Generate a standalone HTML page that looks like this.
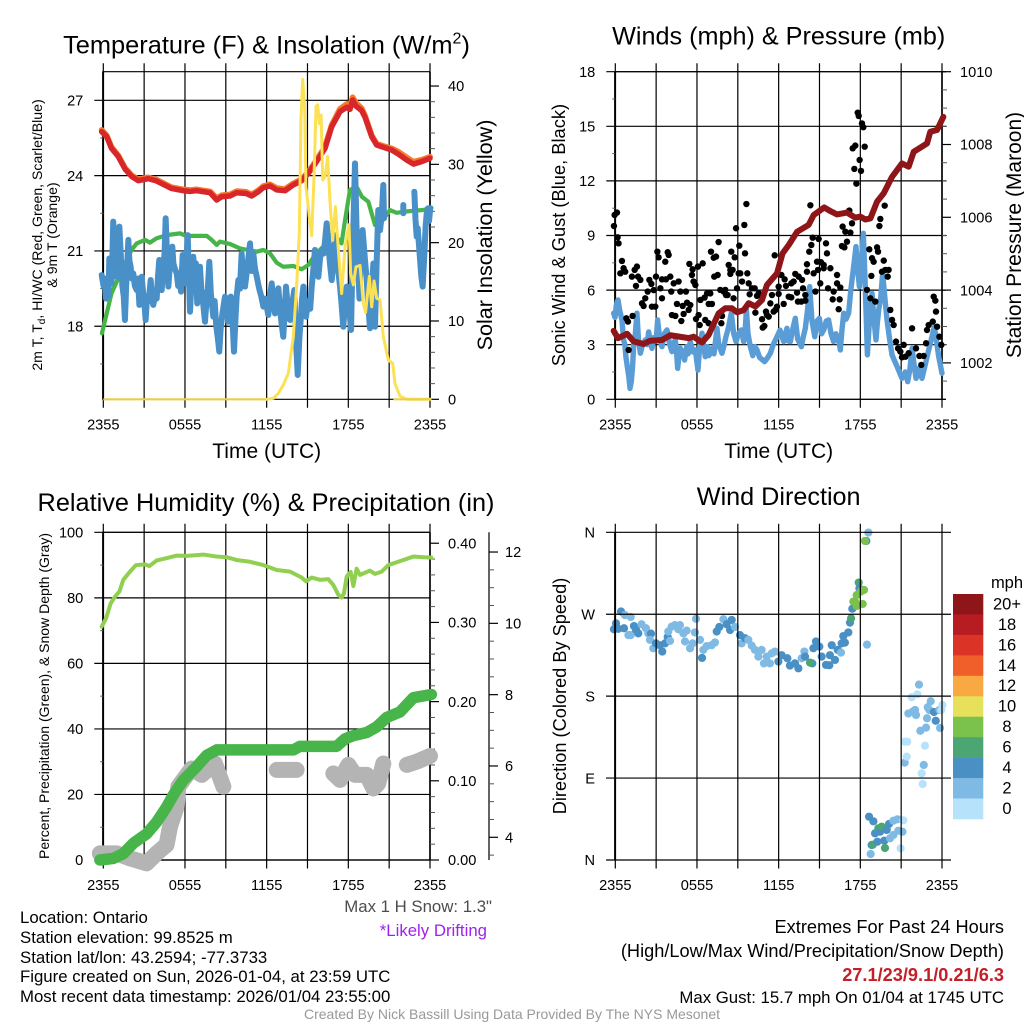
<!DOCTYPE html>
<html lang="en">
<head>
<meta charset="utf-8">
<title>NYS Mesonet Station Meteogram - Ontario</title>
<style>
html,body{margin:0;padding:0;background:#fff;}
svg{display:block;}
text{font-family:"Liberation Sans",sans-serif;fill:#000;}
.title{font-size:25.2px;text-anchor:middle;}
.axis-label{font-size:21px;text-anchor:middle;}
.small-label{font-size:14.1px;text-anchor:middle;}
.foot{font-size:16.8px;}
.foot-wide{font-size:18.2px;}
</style>
</head>
<body>
<svg id="chart" xmlns="http://www.w3.org/2000/svg" width="1024" height="1024" viewBox="0 0 1024 1024">
<rect x="0" y="0" width="1024" height="1024" fill="#ffffff"/>
<g id="layer"></g>

<text class="title" style="font-size:25.4px" x="266.5" y="53.5">Temperature (F) &amp; Insolation (W/m<tspan font-size="16" dy="-10">2</tspan><tspan dy="10">)</tspan></text>
<text class="axis-label" x="266.7" y="458">Time (UTC)</text>
<text class="small-label" transform="translate(42,235) rotate(-90)">2m T, T<tspan font-size="10" dy="3">d</tspan><tspan dy="-3">, HI/WC (Red, Green, Scarlet/Blue)</tspan></text>
<text class="small-label" transform="translate(57,235) rotate(-90)">&amp; 9m T (Orange)</text>
<text class="axis-label" style="font-size:21.6px" transform="translate(492,235) rotate(-90)">Solar Insolation (Yellow)</text>

<text class="title" x="778.7" y="44.5">Winds (mph) &amp; Pressure (mb)</text>
<text class="axis-label" x="778.7" y="458">Time (UTC)</text>
<text class="axis-label" style="font-size:18.3px" transform="translate(565,235) rotate(-90)">Sonic Wind &amp; Gust (Blue, Black)</text>
<text class="axis-label" transform="translate(1021,235) rotate(-90)">Station Pressure (Maroon)</text>

<text class="title" style="font-size:25.3px" x="266" y="511">Relative Humidity (%) &amp; Precipitation (in)</text>
<text class="small-label" style="font-size:14px" transform="translate(49,696) rotate(-90)">Percent, Precipitation (Green), &amp; Snow Depth (Gray)</text>

<text class="title" x="778.7" y="505">Wind Direction</text>
<text class="axis-label" style="font-size:18.2px" transform="translate(566,696) rotate(-90)">Direction (Colored By Speed)</text>

<text class="foot" x="20" y="923">Location: Ontario</text>
<text class="foot" x="20" y="943">Station elevation: 99.8525 m</text>
<text class="foot" x="20" y="963">Station lat/lon: 43.2594; -77.3733</text>
<text class="foot" x="20" y="982">Figure created on Sun, 2026-01-04, at 23:59 UTC</text>
<text class="foot" x="20" y="1002">Most recent data timestamp: 2026/01/04 23:55:00</text>
<text class="foot" x="492" y="912" text-anchor="end" style="fill:#4d4d4d">Max 1 H Snow: 1.3"</text>
<text class="foot" x="487" y="936" text-anchor="end" style="fill:#a020f0">*Likely Drifting</text>
<text class="foot-wide" x="1004" y="933" text-anchor="end">Extremes For Past 24 Hours</text>
<text class="foot-wide" x="1004" y="957" text-anchor="end">(High/Low/Max Wind/Precipitation/Snow Depth)</text>
<text class="foot-wide" x="1004" y="981" text-anchor="end" font-weight="bold" style="fill:#c4202a">27.1/23/9.1/0.21/6.3</text>
<text class="foot" x="1004" y="1003" text-anchor="end">Max Gust: 15.7 mph On 01/04 at 1745 UTC</text>
<text x="512" y="1019" text-anchor="middle" style="font-size:14px;fill:#999999">Created By Nick Bassill Using Data Provided By The NYS Mesonet</text>
</svg>

<script>
// ---------- data (hours since 2355 UTC; null marks a gap) ----------
const timeLabels = ['2355','','0555','','1155','','1755','','2355'];

const tempTicks = [18,21,24,27];
const insolationTicks = [0,10,20,30,40];
const windTicks = [0,3,6,9,12,15,18];
const pressureTicks = [1002,1004,1006,1008,1010];
const humidityTicks = [0,20,40,60,80,100];
const precipTicks = ['0.00','0.10','0.20','0.30','0.40'];
const snowTicks = [4,6,8,10,12];
const directionTicks = ['N','E','S','W','N'];

const redHours = [-0.12,0.25,0.6,1.1,1.6,2.1,2.57,3.3,3.9,5,5.88,6.37,6.86,7.84,8.33,8.7,9.3,9.8,10.5,10.9,11.4,11.75,12.25,12.74,13.35,13.96,14.57,15.06,15.67,16.29,16.78,17.39,17.88,18.12,18.32,18.56,18.98,19.23,19.72,20.08,20.57,21.19,21.67,22.29,22.78,23.39,24];
const redTemp = [25.75,25.55,25.09,24.76,24.26,23.96,23.8,23.88,23.79,23.49,23.4,23.37,23.4,23.32,23.03,23.16,23.19,23.32,23.29,23.19,23.36,23.52,23.59,23.43,23.4,23.63,23.8,24.09,24.56,25.09,25.95,26.55,26.72,26.64,27.01,26.77,26.59,26.32,25.55,25.22,25.13,25.02,24.86,24.62,24.46,24.56,24.69];
const orangeTemp = [25.82,25.6,25.14,24.8,24.3,24.0,23.85,23.93,23.84,23.54,23.45,23.42,23.45,23.37,23.1,23.22,23.25,23.38,23.35,23.25,23.42,23.58,23.65,23.5,23.46,23.69,23.86,24.14,24.62,25.16,26.02,26.66,26.85,26.8,27.12,26.9,26.68,26.38,25.6,25.27,25.18,25.08,24.95,24.72,24.55,24.63,24.75];

const greenHours = [-0.1,0.25,0.6,1.1,1.6,2.08,2.45,3.06,3.43,3.9,4.65,5.63,6.1,7.6,7.96,8.33,8.57,9.3,10.04,11.27,11.76,12.25,12.74,13.22,13.96,14.57,15.06,15.55,16.16,16.53,16.9,17.5,17.76,18.12,18.6,19,19.47,19.96,20.45,21.06,21.55,22.04,22.78,23.5,24.1];
const greenTemp = [17.72,18.51,19.31,19.91,20.51,21.04,21.3,21.44,21.33,21.5,21.63,21.7,21.6,21.6,21.44,21.24,21.37,21.28,21.1,20.97,21.04,20.9,20.53,20.37,20.4,20.27,20.44,20.84,21.17,21.5,21.7,21.3,22.23,23.43,23.56,23.16,22.96,22.03,22.17,22.63,22.52,22.56,22.6,22.63,22.72];

const chillHours = [-0.12,0.02,0.1,0.2,0.3,0.38,0.44,0.52,0.6,0.66,0.73,0.8,0.9,0.98,1.08,1.18,1.28,1.4,1.5,1.59,1.68,1.76,1.84,1.92,2,2.1,2.2,2.32,2.45,2.55,2.65,2.75,2.82,2.95,3.05,3.11,3.22,3.34,3.48,3.58,3.67,3.8,3.92,4.02,4.11,4.2,4.29,4.4,4.5,4.58,4.68,4.78,4.9,5.07,5.15,5.25,5.39,5.5,5.62,5.71,5.83,5.92,6,6.1,6.2,6.28,6.37,6.45,6.61,6.72,6.8,6.9,7,7.1,7.2,7.3,7.47,7.58,7.68,7.79,7.9,8.08,8.18,8.3,8.42,8.52,8.62,8.75,8.94,9.05,9.18,9.36,9.48,9.6,9.72,9.8,9.92,10.04,10.16,10.28,10.41,10.55,10.78,10.9,11.02,11.14,11.3,11.45,11.6,11.76,11.9,12.12,12.25,12.37,12.5,12.61,12.75,12.86,13,13.1,13.22,13.32,13.42,13.55,13.72,13.88,14.03,14.15,14.28,14.4,14.5,14.6,14.7,14.89,15.05,15.2,15.31,15.42,15.55,15.68,15.8,15.92,16.04,16.2,16.41,16.55,16.65,16.78,16.9,17.02,17.2,17.39,17.5,17.63,17.75,17.88,18.05,18.2,18.3,18.42,18.49,18.6,18.74,18.82,18.9,19.05,19.2,19.35,19.47,19.59,19.72,19.84,19.96,20.08,20.2,20.33,20.45,20.57,20.62,null,22.04,22.04,null,22.85,22.93,23.02,23.1,23.25,23.36,23.46,23.58,23.68,23.76,23.85,23.93,24.02];
const chillTemp = [20.04,19.6,19.9,19.1,19.6,19.2,20.7,20.1,19.7,20.6,22.17,21.3,20.2,19.97,20.9,21.97,20.9,19.6,19.2,18.25,19.6,20.5,21.44,20.6,20.4,19.9,20.1,19.6,19.44,19.9,18.85,19.5,19.97,19.2,18.7,18.25,19.2,19,19.84,19.1,18.85,19.2,19.1,20,20.64,20.1,19.44,20.4,20.9,22.3,20.9,19.58,20.5,21.17,20.5,20.3,20.11,19.6,19.9,19.38,20.84,20.2,19.71,20.5,21.63,20.2,18.58,19.5,20.77,20.1,20.5,18.91,19.6,20.37,19.5,19.1,18.18,19,19.5,20.57,19.3,18.38,19,18,17.5,16.99,17.9,18.5,19.18,18.7,18.18,19.18,18.4,16.99,18.4,19.2,19.84,19.5,20.9,19.9,19.58,20.2,21.3,20.2,20.9,20.31,19.9,19.5,19.2,18.78,19.1,18.45,19.2,19.71,19,18.51,19.1,19.51,18.6,18.1,17.58,18.5,19.58,18.8,18.25,18.9,19.44,17.5,16.06,17.5,18.25,19.1,19.58,18.38,19,18.7,19.58,20.2,21.04,20.3,19.97,20.7,21.04,20.9,22.1,21.2,20.5,19.84,20.6,21.57,20.5,19.58,18.9,17.98,18.9,19.58,18.8,17.85,20.5,23,24.49,22,20.11,19.1,21,21.83,20.8,19.84,18.8,17.92,19.5,20.5,17.98,20.5,22.63,21.83,22.4,23.63,22.3,null,22.83,22.5,null,23.36,22.3,21.57,21.9,20.8,20,19.58,20.8,22,22.5,22.7,22.2,22.7];

const sunHours = [12,12.49,12.86,13.22,13.59,13.96,14.2,14.4,14.52,14.65,14.79,14.89,15.06,15.13,15.31,15.48,15.63,15.75,15.87,16,16.12,16.29,16.48,16.65,16.85,17.05,17.27,17.51,17.76,18.05,18.17,18.37,18.56,18.86,19.1,19.27,19.54,19.72,19.89,20.08,20.33,20.57,20.94,21.26,21.43,21.8,22.3,24];
const sunWatts = [0,0.13,0.77,1.83,3.3,8,14.4,21.2,35.7,40.85,37.4,27.1,24.6,23.3,20.9,28.4,37.4,37.6,35.2,36.3,28,28.4,31,25.4,20.3,24.6,19,13.5,19.5,22.3,16.1,14.6,16.9,17.1,12.3,11.1,15.7,11.8,15.1,12.9,12.7,8,5,4.6,2,0.4,0,0];

const sonicHours = [-0.12,-0.02,0.08,0.2,0.32,0.49,0.6,0.7,0.78,0.88,1,1.08,1.18,1.27,1.35,1.45,1.59,1.7,1.84,2,2.2,2.35,2.45,2.58,2.69,2.85,3,3.11,3.25,3.43,3.6,3.8,4,4.16,4.3,4.41,4.5,4.58,4.68,4.78,4.92,5.09,5.25,5.35,5.51,5.7,5.88,6.07,6.2,6.37,6.5,6.61,6.75,6.88,7.1,7.25,7.47,7.6,7.84,8,8.13,8.3,8.52,8.7,8.87,9.05,9.26,9.43,9.55,9.63,9.75,9.92,10.1,10.25,10.41,10.6,10.97,11.2,11.39,11.6,11.88,12.1,12.37,12.5,12.61,12.72,12.86,13.05,13.22,13.4,13.67,13.8,13.96,14.12,14.28,14.45,14.65,14.82,14.99,15.15,15.31,15.5,15.67,15.85,16.04,16.2,16.41,16.53,16.65,16.78,16.95,17.14,17.3,17.51,17.68,17.8,17.93,18.08,18.22,18.35,18.52,18.65,18.86,19,19.15,19.25,19.35,19.5,19.64,19.8,19.96,20.15,20.33,20.7,21.06,21.3,21.48,21.65,21.8,21.95,22.09,22.3,22.53,22.8,23.02,23.25,23.44,23.6,23.76,24];
const sonicSpeed = [4.73,4.5,5.2,5.46,4.9,4.36,3.3,3,2.34,1.8,1.2,0.6,1,1.8,3,3.4,4.73,3.3,2.53,3,3.26,3,3.7,3.2,2.8,3.4,3.2,4.36,3.4,2.89,3.6,3.81,3,2.62,3.1,3.26,2.6,1.7,2.4,2.8,2.6,2.16,2.9,2.5,3.17,2.6,2.71,1.61,2.9,3.63,2.9,2.34,2.9,2.4,2.8,2.5,3.9,3,2.53,3,3.44,3.9,4.73,3.6,3.17,3.6,3.81,3.17,3.9,4.91,3.6,2.89,2.4,2.9,2.71,2.3,2.07,2.3,2.53,3,3.44,3.8,3.17,3.6,3.9,3.2,3.17,3.9,4.45,3.3,2.89,3.4,3.9,4.9,6.19,4.3,3.44,4.3,4.45,3.6,3.81,4.3,4.36,3.6,3.17,3.6,3.26,2.71,3.8,4.73,4.4,4.73,6,7.29,8.39,7.2,6.19,7.6,9.12,6.5,2.44,4.1,5.82,4.4,3.26,4.2,4.91,5.6,6.92,5.6,4.36,3.3,2.44,1.8,1.15,1.5,0.97,1.7,2.8,1.9,1.15,1.7,1.15,2,2.71,3.4,3.99,3.2,2.34,1.43];

const pressureHours = [-0.12,0.2,0.86,1.35,2.08,2.57,3.43,4.04,5.39,5.75,6.37,6.86,7.59,8.08,8.57,8.94,9.43,9.8,10.29,10.78,11.14,11.88,12.29,12.74,13.35,14.2,14.57,15.35,15.8,16.29,17.02,17.63,18,18.37,18.74,19.23,19.72,20.33,21.06,21.55,21.92,22.9,23.14,23.64,24.1];
const pressureMb = [1002.88,1002.68,1002.8,1002.59,1002.52,1002.61,1002.63,1002.76,1002.68,1002.72,1002.56,1002.77,1003.36,1003.5,1003.5,1003.39,1003.45,1003.64,1003.55,1003.73,1004.14,1004.46,1005.01,1005.24,1005.6,1005.79,1006.06,1006.27,1006.17,1006.08,1006.13,1005.99,1006.02,1005.94,1005.97,1006.43,1006.66,1007.11,1007.48,1007.39,1007.8,1008.03,1008.35,1008.4,1008.76];

const gustHours = [-0.1,-0.05,0.12,0.17,0.24,0.49,0.37,0.61,0.73,0.81,0.93,0.98,1.27,1.22,1.42,1.59,1.52,1.67,1.84,1.96,2.08,2.2,2.38,2.5,2.65,2.69,2.94,2.99,2.82,3.09,3.18,3.31,3.43,3.43,3.72,3.67,3.85,3.92,4.04,4.11,4.16,4.41,4.29,4.65,4.53,4.78,4.85,5.02,4.95,5.19,5.27,5.51,5.39,5.44,5.63,5.75,5.88,5.68,6.07,6.42,6.12,5.93,6.2,6.25,6.56,6.74,6.98,6.61,6.86,6.86,7.1,7.03,7.23,7.4,7.27,7.52,7.59,7.71,7.79,7.84,7.96,8.13,8.08,8.25,8.33,8.45,8.45,8.62,8.52,8.77,8.69,8.87,8.94,9.06,9.11,9.18,9.31,9.48,9.53,9.63,9.7,9.8,9.87,10.04,10.24,10.29,10.41,10.53,10.65,10.83,10.95,10.78,11.07,11.14,11.27,11.39,11.51,11.63,11.76,11.88,11.71,12,12,12.2,12.37,12.44,12.54,12.74,12.93,12.93,13.1,13.22,13.35,13.47,13.42,13.67,13.72,13.79,13.96,13.96,14.08,14.08,14.25,14.33,14.4,14.5,14.57,14.7,14.82,14.89,14.94,15.06,15.11,15.31,15.31,15.48,15.55,15.63,15.8,15.97,16.04,16.29,16.29,16.48,16.41,16.53,16.7,16.65,16.83,16.9,17.02,17.19,17.27,17.39,17.44,17.63,17.56,17.71,17.81,17.88,17.95,18.05,18.12,18.22,18.32,18.49,18.66,18.81,18.86,18.98,18.74,19.1,19.23,19.3,19.4,19.47,19.72,19.79,19.59,19.84,20.01,20.08,20.2,20.33,20.45,20.62,20.77,20.94,21.06,21.19,21.31,21.55,21.8,22.09,22.34,22.65,22.48,22.83,22.9,23.02,23.32,23.39,23.51,23.56,23.64,23.81,23.95];
const gustSpeed = [9.52,10.13,10.26,8.9,8.57,7.6,6.92,7.2,7.01,4.45,4.27,2.71,4.58,6.74,7.11,7.29,6.23,6.74,6.56,5.27,5.13,5.55,5.92,6.56,6.34,5.09,5.09,6.74,6,8.11,7.8,6.1,5.55,6.59,6.59,7.56,8.08,7.93,6.74,5.92,4.63,4.58,6.37,6.47,5.24,5.92,4.3,4.69,5.13,5.92,5.31,5.18,4.91,7.44,6.83,6.47,6.28,7.14,7.29,7.47,4.63,4.41,4.08,5.46,5.59,5.82,5.82,4.36,4.18,5.24,5.24,8.11,7.78,7.84,6.74,6.83,8.64,6.01,4.18,4.58,5.92,5.73,6.01,5.73,7.38,7.11,6.89,7.11,8.11,7.8,5.55,9.4,6.1,6.92,8.44,6.92,6.47,9.58,8.02,10.73,6.92,6.37,5.77,6.1,6.1,4.76,5.68,5.82,5.73,3.94,4.03,4.4,4.82,4.63,4.54,5.27,5.73,4.82,4.91,5.09,7.91,5.79,6.19,6.83,5.24,6.59,6.23,5.64,5.6,6.37,6.47,6.89,5.86,6.74,5.37,5.37,6.56,6.1,5.73,5.42,7.01,7.42,8.11,10.66,8.48,8.88,6.92,5.92,7.56,7.11,8.81,6.37,7.53,7.38,7.2,8.57,8.02,6.1,7.2,5.49,5.92,6.83,6.37,5.49,4.95,6.14,9.49,8.42,8.35,9.21,8.66,10.37,9.16,9.67,13.79,13.94,12.66,11.85,15.75,15.57,13.15,12.55,15.16,14.95,13.88,6.01,8.24,6.78,7.75,7.56,5.55,5.37,8.35,8.11,9.52,9.91,7.62,10.64,7.01,7.11,6.74,7.11,4.91,4.36,4.08,3.17,2.8,2.62,2.31,2.99,2.34,2.53,3.9,2.8,2.38,2.38,1.89,3.08,3.81,4.08,4.27,5.64,5.42,4.82,3.99,3.44,2.99];

const humidityHours = [-0.12,0.2,0.54,0.86,1.18,1.47,1.96,2.4,3.06,3.38,3.92,4.53,5.39,6.12,7.35,8.33,9.06,9.85,10.78,11.76,12.74,13.72,14.57,14.89,15.31,15.92,16.53,16.9,17.27,17.51,17.68,17.88,18.17,18.37,18.61,18.86,19.59,19.96,20.45,20.94,21.8,22.78,23.51,24.1];
const humidityPct = [71.2,73.7,78.3,80.4,81.9,85.5,88,90,90.2,89.7,91.4,92,92.9,92.8,93.2,92.6,92.4,91.5,91,90,88.5,88,86.2,85,86.2,85.5,85.7,83.9,80.9,80.1,81.4,86.5,87.9,83.6,88.9,87,88.3,87.3,88,90,91.2,92.6,92.4,92.3];

const precipHours = [-0.25,0.73,1.47,2.2,3.18,3.92,4.65,5.14,5.88,6.86,7.59,8.33,9.55,13.96,14.45,17.14,17.76,18.37,19.35,20.08,20.82,21.8,22.78,24.1];
const precipInches = [0,0.002,0.008,0.021,0.033,0.048,0.067,0.082,0.101,0.118,0.132,0.139,0.139,0.139,0.1435,0.1435,0.153,0.157,0.161,0.168,0.18,0.187,0.205,0.209];

const snowHours = [-0.25,0.98,1.96,3.18,3.92,4.65,4.9,5.39,5.51,6.49,7.23,8.2,8.82,null,12.74,14.2,null,16.9,17.39,18,18.5,19.35,19.84,20.2,20.57,null,22.3,23.02,24];
const snowDepth = [3.55,3.55,3.41,3.27,3.55,3.79,4.3,4.86,5.42,5.93,5.75,6.07,5.42,null,5.89,5.89,null,5.79,5.61,6.03,5.75,5.75,5.37,5.51,6.07,null,6.03,6.12,6.28];

const directionHours = [-0.1,0.05,0.22,0.42,0.64,0.71,0.96,1.13,1.13,1.37,1.52,1.69,1.93,2.25,2.42,2.62,2.55,2.79,2.99,3.28,3.45,3.65,3.85,4.02,3.89,4.14,4.38,4.75,4.63,5,5.24,5.12,5.49,5.68,5.85,5.93,6.22,6.37,6.47,6.71,7.08,7.32,7.45,7.64,7.94,8.18,8.43,8.55,8.79,9.16,9.28,9.53,9.77,10.02,10.26,10.51,10.92,10.75,11.12,11.36,11.49,11.73,11.98,12.22,12.64,12.83,13.2,13.45,13.69,13.89,13.94,14.47,14.3,14.55,14.74,14.99,15.16,15.48,15.72,15.9,15.77,16.14,16.34,16.58,16.63,16.87,16.75,17.12,17.24,17.32,17.41,17.49,17.61,17.73,17.73,17.88,17.93,18.03,18.17,18.27,18.49,18.44,18.34,18.59,18.64,18.96,18.76,18.83,18.91,19.08,19.25,19.32,19.45,19.57,19.76,19.81,19.94,20.11,20.18,20.43,20.43,20.72,20.79,20.96,21.09,21.16,21.26,21.28,21.45,21.41,21.53,21.77,21.85,22.02,22.09,22.19,22.31,22.41,22.51,22.58,22.66,22.75,22.83,22.9,22.95,23.17,23.07,23.41,23.54,23.81,23.86,23.95,24.03];
const directionDegrees = [253.5,260,254,273,254.6,269,247,267,247,257,253,249,259,254.6,249,248.7,241.8,232.6,238,236,229,238,245,240.7,251,256.4,258,258,253.5,249,252,240,232.6,238,250,265,241.8,222,230.8,235,236,239,251,256,264.5,259,252.7,263.7,256,247,238,243.6,241.8,235.5,230.8,223.4,216,230.8,223.4,216,227,229,218,225,221.6,213.6,216,210.6,221.6,229,223.4,216,216.8,232.6,240,234.4,223.4,214.3,214,236,225,219.8,230.8,227.8,238,238.8,246,250,260.8,265.6,276,283.9,283.9,291,279,304.8,298.5,294.9,281.3,296.7,236.6,350.5,350.5,359.7,47.6,42.5,6.6,16.5,16.8,29.3,20.1,34.8,31.1,36.6,21.2,13.2,33,39.6,23.8,27.5,43.2,44.7,32.2,12.8,31.1,43.6,107,130,130,113.6,161,178.8,163,164.8,159.3,182,192.7,142,95.2,83.5,104.4,125.6,145.4,155.7,167.8,174.4,164.8,162.6,153,164.8,145,164.8,170.3];
const directionSpeed = [4.5,4.5,4.5,4.5,4.5,3,3,3,3,4.5,4.5,4.5,3,3,3,4.5,3,3,4.5,4.5,4.5,4.5,4.5,3,3,3,3,3,3,3,3,3,3,3,3,3.6,3,4.5,3,3,3,3,4.5,4.5,3,4.5,4.5,4.5,3,4.5,3,4.5,3,3,3,3,3,3,3,3,3,3,4.5,4.5,4.5,4.5,4.5,4.5,3,3,4.5,4.5,6.5,4.5,4.5,4.5,4.5,4.5,4.5,4.5,4.5,4.5,4.5,3,4.5,4.5,4.5,4.5,4.5,6.5,4.5,8.5,8.5,8.5,8.5,6.5,4.5,8.5,8.5,8.5,3,4.5,8.5,3,4.5,4.5,3,4.5,6.5,4.5,4.5,6.5,4.5,6.5,4.5,6.5,4.5,4.5,3,3,3,3,3,1.5,3,1.5,3.6,1.5,1.5,1.5,3,1.5,3,3,3,1.5,3.6,3,1.5,1.5,3.6,1.5,3,3,3,3,3,4.5,4.5,3,3,1.5,1.5];

const colorBarLabels = ['20+','18','16','14','12','10','8','6','4','2','0'];
const colorBarColors = ['#8e1518','#b71c23','#dc3327','#f05f29','#f8a941','#e7e05a','#7ac24c','#4ba673','#4a90c4','#7fbae4','#b6e2fb'];

// ---------- layout and axis functions ----------
const NS = 'http://www.w3.org/2000/svg';
const layer = document.getElementById('layer');
const hourWidth = 326.7 / 24;
const topRow = {top: 71.7, bottom: 399.3};
const bottomRow = {top: 532.3, bottom: 860};

function timeX(left, hour) { return left + hour * hourWidth; }
function linearY(row, lo, hi, value) { return row.bottom - (value - lo) / (hi - lo) * (row.bottom - row.top); }
function temperatureY(v) { return linearY(topRow, 15.09, 28.14, v); }
function insolationY(v) { return linearY(topRow, 0, 41.83, v); }
function windY(v) { return linearY(topRow, 0, 18, v); }
function pressureY(v) { return linearY(topRow, 1001, 1010, v); }
function percentY(v) { return linearY(bottomRow, 0, 100, v); }
function precipY(v) { return linearY(bottomRow, 0, 0.4138, v); }
function snowY(v) { return bottomRow.bottom - (v - 4) * 35.66 - 22.7; }
function directionY(v) { return linearY(bottomRow, 0, 360, v); }

function seg(name, x1, y1, x2, y2, w, color) {
  const el = document.createElementNS(NS, 'line');
  
  
  el.setAttribute('x1', x1); el.setAttribute('y1', y1);
  el.setAttribute('x2', x2); el.setAttribute('y2', y2);
  el.setAttribute('stroke', color || '#000');
  el.setAttribute('stroke-width', w);
  layer.appendChild(el);
}
function label(name, x, y, str, anchor, size) {
  const el = document.createElementNS(NS, 'text');
  
  
  el.setAttribute('x', x); el.setAttribute('y', y + 5.2);
  el.setAttribute('text-anchor', anchor);
  el.setAttribute('font-size', size || '14.6');
  el.textContent = str;
  layer.appendChild(el);
}
function series(name, hours, values, left, yFn, width, color) {
  let d = '', pen = false;
  for (let i = 0; i < hours.length; i++) {
    if (hours[i] === null || values[i] === null) { pen = false; continue; }
    d += (pen ? 'L' : 'M') + timeX(left, hours[i]).toFixed(2) + ' ' + yFn(values[i]).toFixed(2);
    pen = true;
  }
  const el = document.createElementNS(NS, 'path');
  
  
  el.setAttribute('d', d);
  el.setAttribute('fill', 'none');
  el.setAttribute('stroke', color);
  el.setAttribute('stroke-width', width);
  el.setAttribute('stroke-linejoin', 'round');
  el.setAttribute('stroke-linecap', 'round');
  layer.appendChild(el);
}
function dot(name, x, y, r, color) {
  const el = document.createElementNS(NS, 'circle');
  
  
  el.setAttribute('cx', x); el.setAttribute('cy', y); el.setAttribute('r', r);
  el.setAttribute('fill', color);
  layer.appendChild(el);
}
function frame(prefix, left, row, gridRight) {
  const right = left + 326.7;
  timeLabels.forEach(function (t, i) {
    const x = left + i * hourWidth * 3;
    seg(prefix + '-time-gridline', x, row.top - 8.5, x, row.bottom + 8.5, 1.2);
    if (t) label(prefix + '-time-tick-label', x, row.bottom + 25, t, 'middle');
  });
  seg(prefix + '-left-border', left - 0.2, row.top, left - 0.2, row.bottom, 2);
  seg(prefix + '-right-border', right, row.top, right, row.bottom, 1.6);
  seg(prefix + '-top-border', left - 1, row.top, gridRight, row.top, 1.2);
  seg(prefix + '-bottom-border', left - 1, row.bottom, gridRight, row.bottom, 1.2);
}
function yTicks(prefix, left, ticks, minors, yFn, gridRight) {
  ticks.forEach(function (v) {
    const y = yFn(v);
    seg(prefix + '-gridline', left - 9, y, gridRight, y, 1.2);
    label(prefix + '-tick-label', left - 20, y, String(v), 'end');
  });
  minors.forEach(function (v) { seg(prefix + '-minor-tick', left - 3, yFn(v), left, yFn(v), 1, '#555'); });
}
function rightTicks(prefix, axisX, ticks, minors, yFn, labelX, fmt) {
  ticks.forEach(function (v) {
    seg(prefix + '-tick', axisX, yFn(v), axisX + 9, yFn(v), 1.2);
    label(prefix + '-tick-label', labelX, yFn(v), fmt ? fmt(v) : String(v), 'start');
  });
  minors.forEach(function (v) { seg(prefix + '-minor-tick', axisX, yFn(v), axisX + 5, yFn(v), 1, '#555'); });
}

// ---------- temperature panel ----------
const L1 = 103.3, L2 = 615.3;
frame('temperature', L1, topRow, L1 + 326.7);
yTicks('temperature', L1, tempTicks, [16.5, 19.5, 22.5, 25.5], temperatureY, L1 + 326.7);
rightTicks('insolation', L1 + 326.7, insolationTicks, [2,4,6,8,12,14,16,18,22,24,26,28,32,34,36,38], insolationY, 448);
series('orange-9m-temperature-line', redHours, orangeTemp, L1, temperatureY, 5.8, '#f47a2c');
series('red-2m-temperature-line', redHours, redTemp, L1, temperatureY, 5.5, '#d9262a');
series('green-dewpoint-line', greenHours, greenTemp, L1, temperatureY, 4.2, '#45b549');
series('blue-windchill-line', chillHours, chillTemp, L1, temperatureY, 6, '#4a90c8');
series('yellow-insolation-line', sunHours, sunWatts, L1, insolationY, 3, '#fde154');
seg('insolation-baseline', L1, topRow.bottom, L1 + 163, topRow.bottom, 2.2, '#e8cf4a');
seg('insolation-baseline', L1 + 290, topRow.bottom, L1 + 326.7, topRow.bottom, 2.2, '#e8cf4a');

// ---------- winds panel ----------
frame('winds', L2, topRow, L2 + 330.7);
yTicks('winds', L2, windTicks, [1.5,4.5,7.5,10.5,13.5,16.5], windY, L2 + 330.7);
rightTicks('pressure', L2 + 326.7, pressureTicks, [1001.5,1002.5,1003,1003.5,1004.5,1005,1005.5,1006.5,1007,1007.5,1008.5,1009,1009.5], pressureY, 960);
series('blue-sonic-wind-line', sonicHours, sonicSpeed, L2, windY, 5.4, '#5a9dd6');
gustHours.forEach(function (h, i) {
  dot('gust-point', timeX(L2, h), windY(gustSpeed[i]), 3.2, '#000');
});
series('maroon-pressure-line', pressureHours, pressureMb, L2, pressureY, 6, '#8e1518');

// ---------- humidity panel ----------
frame('humidity', L1, bottomRow, L1 + 326.7);
yTicks('humidity', L1, humidityTicks, [10,30,50,70,90], percentY, L1 + 326.7);
rightTicks('precipitation', L1 + 326.7, [0,0.1,0.2,0.3,0.4], [0.02,0.04,0.06,0.08,0.12,0.14,0.16,0.18,0.22,0.24,0.26,0.28,0.32,0.34,0.36,0.38], precipY, 448, function (v) { return precipTicks[Math.round(v * 10)]; });
seg('snow-depth-axis-line', 489, bottomRow.top, 489, bottomRow.bottom, 1.4, '#222');
rightTicks('snow-depth', 489, snowTicks, [3.5,4.5,5,5.5,6.5,7,7.5,8.5,9,9.5,10.5,11,11.5], snowY, 505);
series('gray-snow-depth-line', snowHours, snowDepth, L1, snowY, 16, '#b4b4b4');
series('light-green-humidity-line', humidityHours, humidityPct, L1, percentY, 4, '#90cf50');
series('green-precipitation-line', precipHours, precipInches, L1, precipY, 11.5, '#47b549');

// ---------- wind direction panel ----------
function speedColor(v) {
  const idx = Math.min(10, Math.floor(v / 2));
  return colorBarColors[10 - idx];
}
directionHours.forEach(function (h, i) {
  dot('direction-point', timeX(L2, h), directionY(directionDegrees[i]), 4.1, speedColor(directionSpeed[i]));
});
timeLabels.forEach(function (t, i) {
  const x = L2 + i * hourWidth * 3;
  seg('direction-time-gridline', x, bottomRow.top - 8.5, x, bottomRow.bottom + 8.5, 1.2);
  if (t) label('direction-time-tick-label', x, bottomRow.bottom + 25, t, 'middle');
});
seg('direction-left-border', L2 - 0.2, bottomRow.top, L2 - 0.2, bottomRow.bottom, 2);
directionTicks.forEach(function (t, i) {
  const y = directionY(i * 90);
  seg('direction-gridline', 606, y, 951, y, 1.2);
  label('direction-tick-label', 595, y, t, 'end');
});

// ---------- colour bar ----------
label('colorbar-units-label', 1007, 583, 'mph', 'middle', '16.5');
colorBarLabels.forEach(function (t, i) {
  const boxHeight = 225 / 11;
  const el = document.createElementNS(NS, 'rect');
  
  
  el.setAttribute('x', 953); el.setAttribute('y', 594 + i * boxHeight);
  el.setAttribute('width', 30.3); el.setAttribute('height', boxHeight + 0.3);
  el.setAttribute('fill', colorBarColors[i]);
  layer.appendChild(el);
  label('colorbar-label', 1007, 594 + (i + 0.5) * boxHeight, t, 'middle', '16.5');
});
</script>
</body>
</html>
